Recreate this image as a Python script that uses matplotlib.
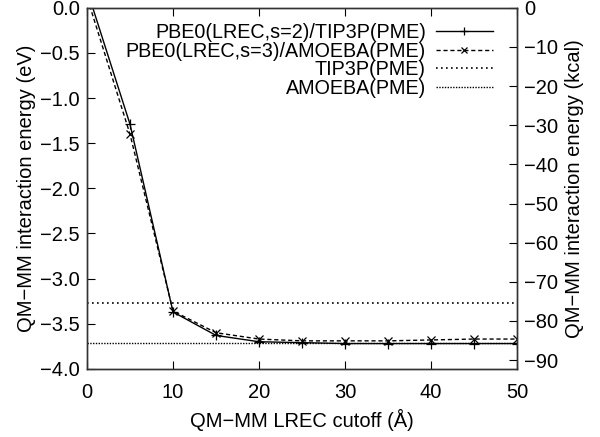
import numpy as np
import matplotlib
matplotlib.use("Agg")
import matplotlib.pyplot as plt

plt.rcParams['font.family'] = ['Liberation Sans', 'DejaVu Sans']

# data
cutoff = [0, 5, 10, 15, 20, 25, 30, 35, 40, 45, 50]
tip3p_lrec = [0.20, -1.29, -3.37, -3.63, -3.70, -3.71, -3.72, -3.72, -3.72, -3.72, -3.72]
amoeba_lrec = [0.12, -1.40, -3.36, -3.60, -3.67, -3.69, -3.69, -3.69, -3.68, -3.67, -3.67]
tip3p_pme = -3.27
amoeba_pme = -3.71
ev_to_kcal = 23.06


def main():
    fs = 14.5
    fig = plt.figure(figsize=(6, 4.37), dpi=100)
    ax = fig.add_axes([0.145, 0.156, 0.717, 0.826])

    ax.plot(cutoff, tip3p_lrec, color='black', lw=1, marker='+', ms=7, mew=0.9,
            label='PBE0(LREC,s=2)/TIP3P(PME)')
    ax.plot(cutoff, amoeba_lrec, color='black', lw=1, ls=(0, (3, 2)), marker='x',
            ms=5.5, mew=0.9, label='PBE0(LREC,s=3)/AMOEBA(PME)')
    ax.axhline(tip3p_pme, color='black', lw=1.2, ls=(0, (1, 2)), label='TIP3P(PME)')
    ax.axhline(amoeba_pme, color='black', lw=1.0, ls=(0, (1, 1)), label='AMOEBA(PME)')

    yt = np.arange(-4, 0.01, 0.5)
    ax.set_xlim(0, 50)
    ax.set_ylim(-4, 0)
    ax.set_xticks(np.arange(0, 51, 10))
    ax.set_yticks(yt)
    ax.set_yticklabels(['\u2212%.1f' % -v if v else '0.0' for v in yt])
    ax.tick_params(direction='in', length=6, labelsize=fs, top=True, right=False, pad=5)
    ax.tick_params(axis='x', pad=10)
    ax.set_xlabel('QM\u2212MM LREC cutoff (Å)', fontsize=fs, labelpad=5)
    ax.set_ylabel('QM\u2212MM interaction energy (eV)', fontsize=fs, labelpad=3)

    kt = np.arange(-90, 1, 10)
    ax2 = ax.twinx()
    ax2.set_ylim(-4 * ev_to_kcal, 0)
    ax2.set_yticks(kt)
    ax2.set_yticklabels(['\u2212%d' % -v if v else '0' for v in kt])
    ax2.tick_params(direction='in', length=6, labelsize=fs, pad=5)
    ax2.set_ylabel('QM\u2212MM interaction energy (kcal)', fontsize=fs, labelpad=5)

    for a in (ax, ax2):
        for s in a.spines.values():
            s.set_linewidth(1.0)
            s.set_color('#333333')

    leg = ax.legend(loc='upper right', bbox_to_anchor=(0.962, 0.98), frameon=False,
                    fontsize=14.2, markerfirst=False, handlelength=2.9, markerscale=0.8,
                    labelspacing=-0.02, borderaxespad=0, handletextpad=0.5)
    for t in leg.get_texts():
        t.set_ha('right')
    leg._legend_box.align = 'right'

    fig.savefig('out.png', dpi=100)


if __name__ == '__main__':
    main()
